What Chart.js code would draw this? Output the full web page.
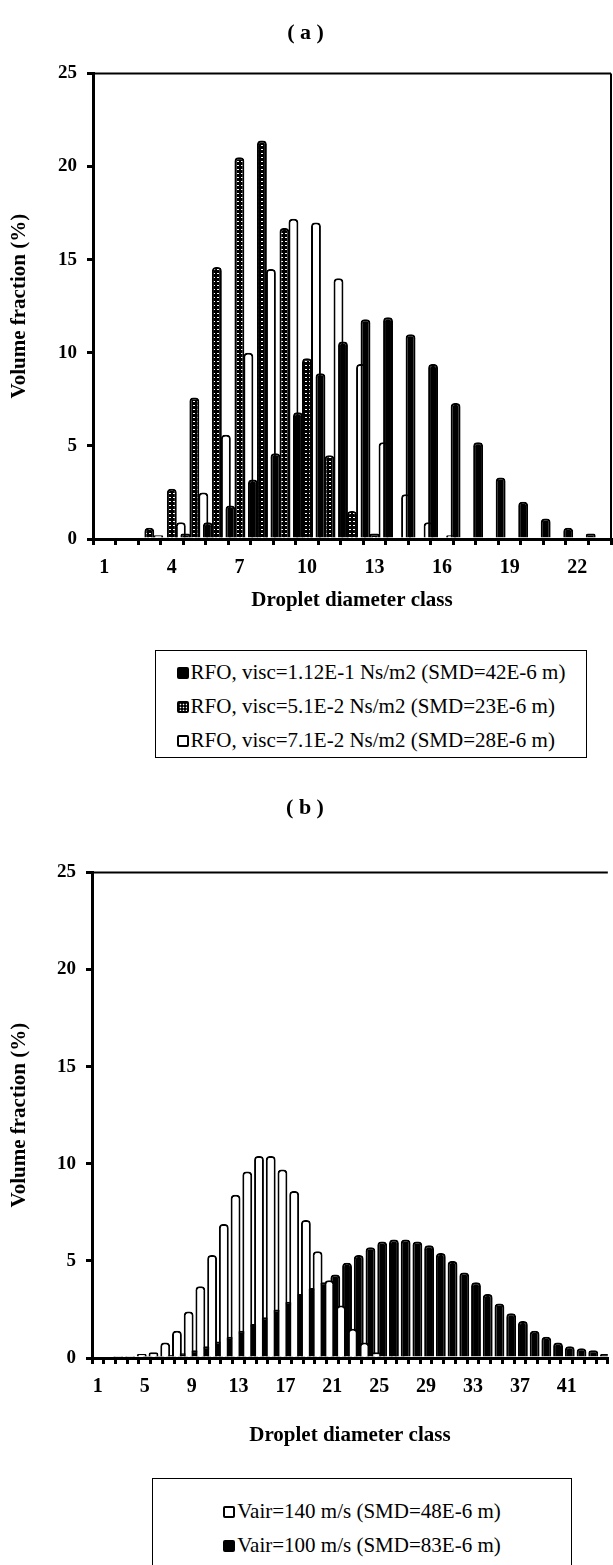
<!DOCTYPE html>
<html>
<head>
<meta charset="utf-8">
<script src="https://cdn.jsdelivr.net/npm/chart.js@4.4.0/dist/chart.umd.min.js"></script>
<style>
body { margin: 0; background: #fff; width: 613px; height: 1565px; overflow: hidden; position: relative; font-family: "Liberation Serif", serif; color: #000; }
.wrap { position: absolute; left: 0; width: 613px; }
#wrapA { top: 0; height: 620px; }
#wrapB { top: 770px; height: 685px; }
.legend { position: absolute; border: 1px solid #000; text-align: center; font-size: 21px; box-sizing: border-box; }
.legend .rows { display: inline-block; text-align: left; }
.legend .row { line-height: 34px; white-space: nowrap; }
.sw { display: inline-block; width: 12px; height: 12px; box-sizing: border-box; border: 2px solid #000; border-radius: 2px; margin-right: 2px; vertical-align: 0; }
.sw.black { background: #000; }
.sw.white { background: #fff; }
.sw.dots { background: radial-gradient(#fff 0.7px, transparent 1.1px) 0 0 / 3px 3px, #000; }
#legendA { left: 155px; top: 650px; width: 432px; height: 108px; padding-top: 4px; }
#legendB { left: 152px; top: 1478px; width: 420px; height: 120px; padding-top: 15px; }
</style>
</head>
<body>
<div class="wrap" id="wrapA"><canvas id="chartA" width="613" height="620"></canvas></div>
<div class="legend" id="legendA"><div class="rows"></div></div>
<div class="wrap" id="wrapB"><canvas id="chartB" width="613" height="685"></canvas></div>
<div class="legend" id="legendB"><div class="rows"></div></div>
<script>
// (a) droplet classes and the three RFO viscosities
const classesA = [1, 2, 3, 4, 5, 6, 7, 8, 9, 10, 11, 12, 13, 14, 15, 16, 17, 18, 19, 20, 21, 22, 23];
const visc112 = [0, 0, 0, 0.1, 0.3, 0.9, 1.8, 3.2, 4.6, 6.8, 8.9, 10.6, 11.8, 11.9, 11.0, 9.4, 7.3, 5.2, 3.3, 2.0, 1.1, 0.6, 0.3];
const visc51 = [0, 0, 0.6, 2.7, 7.6, 14.6, 20.5, 21.4, 16.7, 9.7, 4.5, 1.5, 0.3, 0, 0, 0, 0, 0, 0, 0, 0, 0, 0];
const visc71 = [0, 0, 0.2, 0.9, 2.5, 5.6, 10.0, 14.5, 17.2, 17.0, 14.0, 9.4, 5.2, 2.4, 0.9, 0.2, 0, 0, 0, 0, 0, 0, 0];
const labelsA = ['RFO, visc=1.12E-1 Ns/m2 (SMD=42E-6 m)', 'RFO, visc=5.1E-2 Ns/m2 (SMD=23E-6 m)', 'RFO, visc=7.1E-2 Ns/m2 (SMD=28E-6 m)'];
const tickStepA = 3;

// (b) droplet classes and the two air velocities
const classesB = [1, 2, 3, 4, 5, 6, 7, 8, 9, 10, 11, 12, 13, 14, 15, 16, 17, 18, 19, 20, 21, 22,
    23, 24, 25, 26, 27, 28, 29, 30, 31, 32, 33, 34, 35, 36, 37, 38, 39, 40, 41, 42, 43, 44];
const vair140 = [0, 0, 0.05, 0.1, 0.2, 0.3, 0.8, 1.4, 2.4, 3.7, 5.3, 6.9, 8.4, 9.6, 10.4, 10.4, 9.7, 8.6, 7.1, 5.5, 4.0, 2.7,
    1.5, 0.8, 0.3, 0.1, 0.05, 0, 0, 0, 0, 0, 0, 0, 0, 0, 0, 0, 0, 0, 0, 0, 0, 0];
const vair100 = [0, 0, 0, 0, 0.05, 0.1, 0.15, 0.25, 0.4, 0.6, 0.85, 1.1, 1.4, 1.75, 2.1, 2.5, 2.9, 3.3, 3.6, 3.9, 4.3, 4.9,
    5.3, 5.7, 6.0, 6.1, 6.1, 6.0, 5.8, 5.4, 5.0, 4.4, 3.9, 3.3, 2.8, 2.3, 1.9, 1.4, 1.1, 0.8, 0.6, 0.5, 0.4, 0.2];
const labelsB = ['Vair=140 m/s (SMD=48E-6 m)', 'Vair=100 m/s (SMD=83E-6 m)'];
const tickStepB = 4;

const INK = '#000';
let chartA, chartB;

function dotPattern() {
    const c = document.createElement('canvas');
    c.width = 4; c.height = 4;
    const g = c.getContext('2d');
    g.fillStyle = INK; g.fillRect(0, 0, 4, 4);
    g.fillStyle = '#fff'; g.fillRect(1, 1, 2, 1);
    return g.createPattern(c, 'repeat');
}

// thin top border (and right border for (a)) around the plot area
const framePlugin = {
    id: 'frame',
    afterDraw(chart, args, opts) {
        const { ctx, chartArea: a } = chart;
        ctx.save();
        ctx.strokeStyle = INK;
        ctx.lineWidth = 2;
        ctx.beginPath();
        ctx.moveTo(a.left, a.top); ctx.lineTo(a.right, a.top);
        if (opts.right) { ctx.moveTo(a.right, a.top); ctx.lineTo(a.right, a.bottom); }
        ctx.stroke();
        ctx.restore();
    }
};

function barSet(label, data, bg) {
    return {
        label: label, data: data, backgroundColor: bg, borderColor: INK, borderWidth: 2,
        borderSkipped: 'start', borderRadius: { topLeft: 4, topRight: 4, bottomLeft: 0, bottomRight: 0 },
        inflateAmount: 0
    };
}

function buildOptions(o) {
    return {
        responsive: false, animation: false, devicePixelRatio: 1,
        layout: { padding: { left: 0, right: o.padRight, top: 0, bottom: 0 } },
        datasets: { bar: { categoryPercentage: o.cat, barPercentage: o.bar } },
        plugins: {
            legend: { display: false },
            tooltip: { enabled: false },
            title: { display: true, text: o.title, color: INK, font: { size: 22, weight: 'bold' }, padding: { top: o.titleTop, bottom: o.titleBottom } },
            frame: { right: o.frameRight }
        },
        scales: {
            x: {
                offset: true,
                grid: { offset: true, drawOnChartArea: false, drawTicks: true, tickLength: 6, color: INK, lineWidth: 3 },
                border: { display: true, color: INK, width: 3 },
                ticks: {
                    autoSkip: false, maxRotation: 0, padding: 11, color: INK, font: { size: 20, weight: 'bold' },
                    callback: (v, i) => i % o.step === 0 ? String(o.classes[i]) : ''
                },
                title: { display: true, text: 'Droplet diameter class', color: INK, font: { size: 21, weight: 'bold' }, padding: { top: 0, bottom: 7 } },
                afterFit: s => { s.height = o.xHeight; }
            },
            y: {
                min: 0, max: 25,
                grid: { drawOnChartArea: false, drawTicks: true, tickLength: 6, color: INK, lineWidth: 3 },
                border: { display: true, color: INK, width: 3 },
                ticks: { stepSize: 5, padding: 10, color: INK, font: { size: 19, weight: 'bold' } },
                title: { display: true, text: 'Volume fraction (%)', color: INK, font: { size: 21, weight: 'bold' }, padding: { top: 7, bottom: 0 } },
                afterFit: s => { s.width = o.yWidth; }
            }
        }
    };
}

function fillLegend(id, labels, kinds) {
    const rows = document.querySelector('#' + id + ' .rows');
    labels.forEach((t, i) => {
        const r = document.createElement('div');
        r.className = 'row';
        const sw = document.createElement('span');
        sw.className = 'sw ' + kinds[i];
        r.appendChild(sw);
        r.appendChild(document.createTextNode(t));
        rows.appendChild(r);
    });
}

function initializeCharts() {
    Chart.defaults.font.family = '"Liberation Serif", "Times New Roman", serif';
    Chart.defaults.color = INK;

    const ctxA = document.getElementById('chartA');
    chartA = new Chart(ctxA, {
        type: 'bar',
        data: {
            labels: classesA,
            datasets: [
                barSet(labelsA[0], visc112, INK),
                barSet(labelsA[1], visc51, dotPattern()),
                barSet(labelsA[2], visc71, '#fff')
            ]
        },
        options: buildOptions({ title: '( a )', titleTop: 20, titleBottom: 27, cat: 1.2, bar: 1.1, padRight: 2, frameRight: true,
            step: tickStepA, classes: classesA, xHeight: 81, yWidth: 93 }),
        plugins: [framePlugin]
    });

    const ctxB = document.getElementById('chartB');
    chartB = new Chart(ctxB, {
        type: 'bar',
        data: {
            labels: classesB,
            datasets: [
                barSet(labelsB[0], vair140, '#fff'),
                barSet(labelsB[1], vair100, INK)
            ]
        },
        options: buildOptions({ title: '( b )', titleTop: 25, titleBottom: 51, cat: 1.02, bar: 1.65, padRight: 3, frameRight: false,
            step: tickStepB, classes: classesB, xHeight: 97, yWidth: 92 }),
        plugins: [framePlugin]
    });

    fillLegend('legendA', labelsA, ['black', 'dots', 'white']);
    fillLegend('legendB', labelsB, ['white', 'black']);
}

initializeCharts();
</script>
</body>
</html>
